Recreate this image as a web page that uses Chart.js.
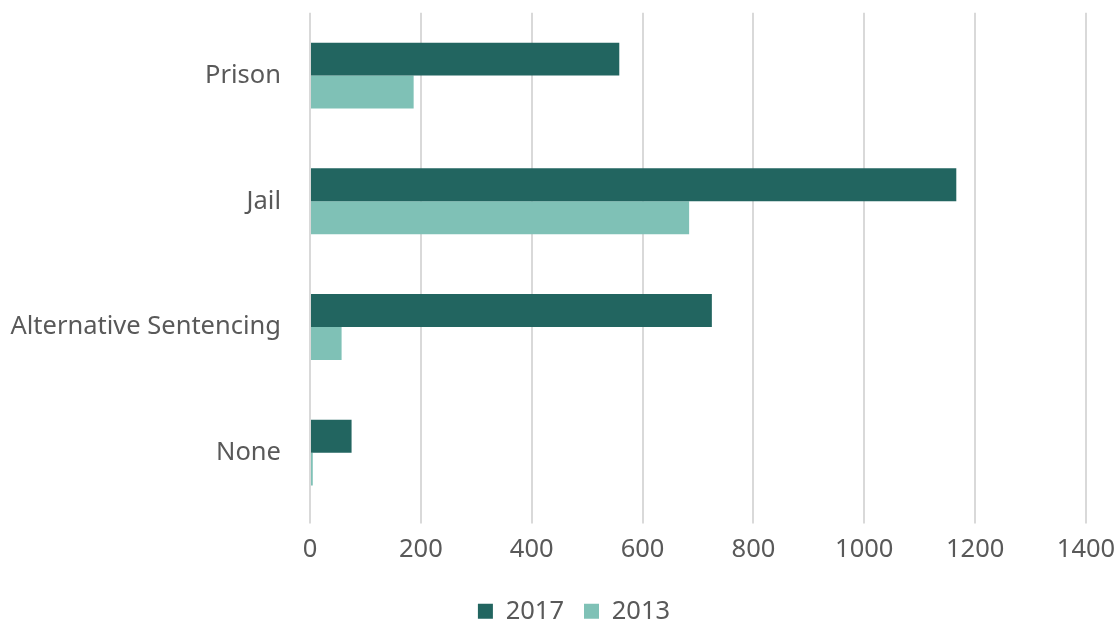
<!DOCTYPE html>
<html>
<head>
<meta charset="utf-8">
<script src="https://cdn.jsdelivr.net/npm/chart.js@4"></script>
<style>
  html, body { margin: 0; padding: 0; background: #fff; }
  #wrap { width: 1119px; height: 623px; }
</style>
</head>
<body>
<div id="wrap"><canvas id="chart" width="1119" height="623"></canvas></div>
<script>
// data
const categories = ['Prison', 'Jail', 'Alternative Sentencing', 'None'];
const values2017 = [558, 1166, 725, 75];
const values2013 = [187, 684, 57, 5];
const xTicks = [0, 200, 400, 600, 800, 1000, 1200, 1400];

const DARK = '#226560';
const LIGHT = '#7fc1b6';
const TEXT = '#595959';
const FONT = "'Noto Sans', 'Open Sans', sans-serif";
const SIZE = 25.5;

// the legend in the original sits a bit right of the canvas centre
const legendShift = {
  id: 'legendShift',
  afterLayout(chart) {
    if (!chart.legend) return;
    chart.legend.left += 31;
    chart.legend.right += 31;
  }
};

new Chart(document.getElementById('chart'), {
  type: 'bar',
  data: {
    labels: categories,
    datasets: [
      { label: '2017', data: values2017, backgroundColor: DARK, borderWidth: 0 },
      { label: '2013', data: values2013, backgroundColor: LIGHT, borderWidth: 0 }
    ]
  },
  options: {
    indexAxis: 'y',
    responsive: false,
    animation: false,
    layout: { padding: { top: 11, right: 33, left: 0, bottom: -11 } },
    datasets: {
      bar: { categoryPercentage: 0.524, barPercentage: 1 }
    },
    scales: {
      x: {
        min: 0,
        max: 1400,
        afterBuildTicks: s => { s.ticks = xTicks.map(v => ({ value: v })); },
        grid: { color: '#d9d9d9', lineWidth: 2, tickLength: 8 },
        border: { display: false },
        ticks: {
          color: TEXT,
          font: { family: FONT, size: SIZE, lineHeight: 1 },
          padding: 13,
          callback: v => String(v)
        },
        afterFit: s => {
          s.height = 63;
          s.paddingRight = 33;
          s.paddingLeft = 0;
        }
      },
      y: {
        // invisible tick marks give the gap between labels and the 0 line
        grid: { display: true, drawOnChartArea: false, color: 'rgba(0,0,0,0)', tickLength: 29 },
        border: { display: false },
        ticks: { color: TEXT, font: { family: FONT, size: SIZE, lineHeight: 1 }, padding: 0 },
        afterFit: s => { s.width = 310; }
      }
    },
    plugins: {
      legend: {
        position: 'bottom',
        labels: {
          color: TEXT,
          font: { family: FONT, size: SIZE },
          boxWidth: 15,
          boxHeight: 15,
          padding: 20
        }
      },
      tooltip: { enabled: false }
    }
  },
  plugins: [legendShift]
});
</script>
</body>
</html>
